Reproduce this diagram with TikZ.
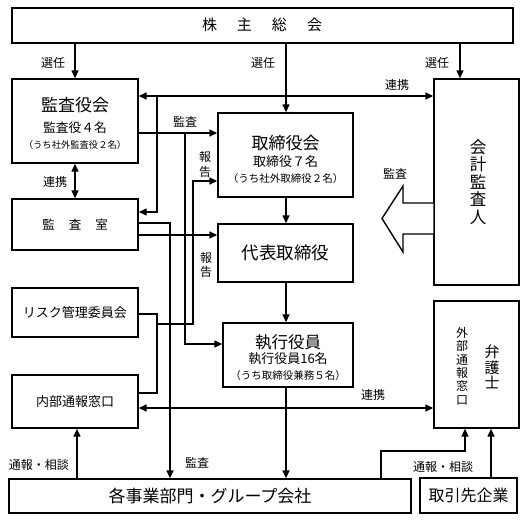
\documentclass[tikz,border=0pt]{standalone}
\usepackage{fontspec}
\setmainfont{Noto Sans CJK JP}
\usetikzlibrary{arrows.meta}
\begin{document}
\begin{tikzpicture}[x=1pt,y=-1pt,
  box/.style={draw,line width=1.4pt,inner sep=0pt,fill=white},
  conn/.style={line width=1.4pt},
  arr/.style={conn,-{Triangle[length=8pt,width=7pt]}},
  darr/.style={conn,{Triangle[length=8pt,width=7pt]}-{Triangle[length=8pt,width=7pt]}},
  lbl/.style={inner sep=0pt,font=\fontsize{12}{14}\selectfont},
  txt/.style={inner sep=0pt}]
\useasboundingbox (0,0) rectangle (527,522);
% boxes
\node[box,minimum width=501pt,minimum height=35pt] (soukai) at (262.5,25.5) {};
\node[box,minimum width=126pt,minimum height=84pt] (kansayaku) at (75,121) {};
\node[box,minimum width=126pt,minimum height=51pt] (kansashitsu) at (75,224.5) {};
\node[box,minimum width=126pt,minimum height=49pt] (risk) at (75,312.5) {};
\node[box,minimum width=126pt,minimum height=53pt] (naibu) at (75,401.5) {};
\node[box,minimum width=135pt,minimum height=84pt] (torishimari) at (285.5,155) {};
\node[box,minimum width=135pt,minimum height=58pt] (daihyo) at (285.5,253) {};
\node[box,minimum width=130pt,minimum height=64pt] (shikko) at (288,355) {};
\node[box,minimum width=85pt,minimum height=206pt] (kaikei) at (476.5,182) {};
\node[box,minimum width=85pt,minimum height=127pt] (bengoshi) at (476.5,364.5) {};
\node[box,minimum width=402pt,minimum height=34pt] (jigyo) at (210,496) {};
\node[box,minimum width=97pt,minimum height=35pt] (torihiki) at (468.5,495.5) {};
% texts in boxes
\node[txt,font=\fontsize{15}{17}\selectfont] (t-soukai) at (262,25) {株\hspace{20pt}主\hspace{20pt}総\hspace{20pt}会};
\node[txt,font=\fontsize{17}{19}\selectfont] (t-ky1) at (75,105) {監査役会};
\node[txt,font=\fontsize{12.7}{14}\selectfont] (t-ky2) at (75,128) {監査役４名};
\node[txt,font=\fontsize{9.3}{11}\selectfont] (t-ky3) at (75,145) {（うち社外監査役２名）};
\node[txt,font=\fontsize{12.5}{14}\selectfont] (t-ks) at (75,225) {監\hspace{14pt}査\hspace{14pt}室};
\node[txt,font=\fontsize{13}{15}\selectfont] (t-risk) at (75,313) {リスク管理委員会};
\node[txt,font=\fontsize{13}{15}\selectfont] (t-naibu) at (75,402) {内部通報窓口};
\node[txt,font=\fontsize{17}{19}\selectfont] (t-tr1) at (285.5,143) {取締役会};
\node[txt,font=\fontsize{13}{15}\selectfont] (t-tr2) at (285.5,162) {取締役７名};
\node[txt,font=\fontsize{10.5}{12}\selectfont] (t-tr3) at (285.5,179) {（うち社外取締役２名）};
\node[txt,font=\fontsize{17.5}{19}\selectfont] (t-dh) at (285.5,253) {代表取締役};
\node[txt,font=\fontsize{16.5}{18}\selectfont] (t-sk1) at (288,342) {執行役員};
\node[txt,font=\fontsize{13}{15}\selectfont] (t-sk2) at (288,359) {執行役員16名};
\node[txt,font=\fontsize{10.5}{12}\selectfont] (t-sk3) at (288,376) {（うち取締役兼務５名）};
\node[txt,font=\fontsize{17}{19}\selectfont] (t-jigyo) at (210,496) {各事業部門・グループ会社};
\node[txt,font=\fontsize{16}{18}\selectfont] (t-torihiki) at (468.5,495.5) {取引先企業};
\node[txt,align=center,font=\fontsize{16.5}{17.5}\selectfont] (t-kaikei) at (478,182) {会\\計\\監\\査\\人};
\node[txt,align=center,font=\fontsize{12}{13.4}\selectfont] (t-gaibu) at (462,366) {外\\部\\通\\報\\窓\\口};
\node[txt,align=center,font=\fontsize{15}{15.5}\selectfont] (t-bengo) at (492,367) {弁\\護\\士};
% helper coordinates
\coordinate (xR) at (460,0);
\coordinate (r1) at (157,96);
\coordinate (r2) at (157,212);
\coordinate (a1) at (185,133);
\coordinate (a2) at (185,344);
\coordinate (k1) at (170,223);
\coordinate (k2) at (0,235);
\coordinate (h1) at (157,314);
\coordinate (h2) at (157,393);
\coordinate (h3) at (157,324);
\coordinate (h4) at (193,324);
\coordinate (h5) at (193,181);
\coordinate (l1) at (0,408);
\coordinate (n1) at (77,0);
\coordinate (p1) at (381,451);
\coordinate (p2) at (465,451);
\coordinate (p3) at (491,0);
\coordinate (m1) at (286,0);
% connectors
\draw[arr] (soukai.south -| kansayaku.north) -- (kansayaku.north);
\draw[arr] (soukai.south -| m1) -- (torishimari.north -| m1);
\draw[arr] (soukai.south -| xR) -- (kaikei.north -| xR);
\draw[darr] (kansayaku.east |- r1) -- (kaikei.west |- r1);
\draw[arr] (r1) -- (r2) -- (kansashitsu.east |- r2);
\draw[darr] (kansayaku.south) -- (kansashitsu.north);
\draw[arr] (kansayaku.east |- a1) -- (torishimari.west |- a1);
\draw[arr] (a1) -- (a2) -- (shikko.west |- a2);
\draw[arr] (kansashitsu.east |- k1) -- (k1) -- (k1 |- jigyo.north);
\draw[arr] (kansashitsu.east |- k2) -- (daihyo.west |- k2);
\draw[conn] (risk.east |- h1) -- (h1) -- (h2) -- (naibu.east |- h2);
\draw[arr] (h3) -- (h4) -- (h5) -- (torishimari.west |- h5);
\draw[arr] (torishimari.south -| m1) -- (daihyo.north -| m1);
\draw[arr] (daihyo.south -| m1) -- (shikko.north -| m1);
\draw[arr] (shikko.south -| m1) -- (jigyo.north -| m1);
\draw[darr] (naibu.east |- l1) -- (bengoshi.west |- l1);
\draw[arr] (jigyo.north -| n1) -- (naibu.south -| n1);
\draw[arr] (jigyo.north -| p1) -- (p1) -- (p2) -- (bengoshi.south -| p2);
\draw[arr] (torihiki.north -| p3) -- (bengoshi.south -| p3);
% hollow arrow
\draw[line width=1.4pt,fill=white,line join=miter] (kaikei.west |- 0,203) -- (403,203) -- (403,186) -- (382,218.5) -- (403,252) -- (403,234) -- (kaikei.west |- 0,234);
% labels
\node[lbl] (l-s1) at (53,63) {選任};
\node[lbl] (l-s2) at (263,63) {選任};
\node[lbl] (l-s3) at (437,63) {選任};
\node[lbl] (l-r1) at (397,85) {連携};
\node[lbl] (l-k1) at (185,122) {監査};
\node[lbl,align=center,font=\fontsize{12}{15}\selectfont] (l-h1) at (205,164) {報\\告};
\node[lbl,align=center,font=\fontsize{12}{14}\selectfont] (l-h2) at (206,265) {報\\告};
\node[lbl] (l-r2) at (55,182) {連携};
\node[lbl] (l-k2) at (395,174) {監査};
\node[lbl] (l-r3) at (373,395) {連携};
\node[lbl] (l-k3) at (197,463) {監査};
\node[lbl] (l-t1) at (39,465) {通報・相談};
\node[lbl] (l-t2) at (443,467) {通報・相談};
\end{tikzpicture}
\end{document}
